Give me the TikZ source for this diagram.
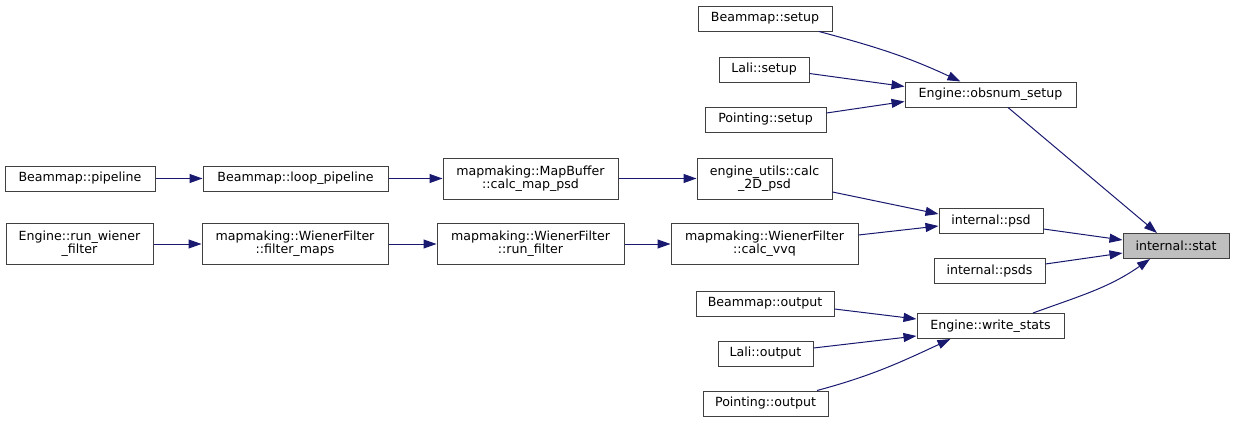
\documentclass[tikz,border=0pt]{standalone}
\usepackage{fontspec}
\setmainfont{DejaVu Sans}
\usetikzlibrary{arrows.meta}
\definecolor{edgeblue}{HTML}{191970}
\definecolor{nodeborder}{HTML}{404040}
\definecolor{curfill}{HTML}{BFBFBF}
\tikzset{
  fn/.style={draw=nodeborder, line width=1pt, fill=white, inner sep=0pt,
    font=\fontsize{12.6}{13.2}\selectfont, align=center, minimum height=25pt},
  fntwo/.style={fn, minimum height=41pt},
  cur/.style={fn, fill=curfill},
  call/.style={draw=edgeblue, line width=1pt, -{Triangle[length=13pt,width=9pt]}},
}
\begin{document}
\begin{tikzpicture}[x=1pt,y=-1pt]
\useasboundingbox (0,0) rectangle (1235,423);
% nodes
\node[fn, minimum width=134pt] (bsetup) at (765,18.5) {Beammap::setup};
\node[fn, minimum width=90pt] (lsetup) at (764,69.5) {Lali::setup};
\node[fn, minimum width=121pt] (psetup) at (765.5,119.5) {Pointing::setup};
\node[fn, minimum width=171pt] (obsnum) at (990.5,94.5) {Engine::obsnum\_setup};
\node[fn, minimum width=150pt] (bpipe) at (80,178.5) {Beammap::pipeline};
\node[fn, minimum width=185pt] (bloop) at (295.5,178.5) {Beammap::loop\_pipeline};
\node[fntwo, minimum width=175pt] (mapbuf) at (530.5,178.5) {mapmaking::MapBuffer\\::calc\_map\_psd};
\node[fntwo, minimum width=135pt] (calc2d) at (764.5,178.5) {engine\_utils::calc\\\_2D\_psd};
\node[fn, minimum width=104pt] (ipsd) at (991,221) {internal::psd};
\node[fntwo, minimum width=147pt] (runwiener) at (79.5,244) {Engine::run\_wiener\\\_filter};
\node[fntwo, minimum width=186pt] (filtermaps) at (295,244) {mapmaking::WienerFilter\\::filter\_maps};
\node[fntwo, minimum width=187pt] (runfilter) at (530.5,244) {mapmaking::WienerFilter\\::run\_filter};
\node[fntwo, minimum width=187pt] (calcvvq) at (764.5,244) {mapmaking::WienerFilter\\::calc\_vvq};
\node[cur, minimum width=106pt] (stat) at (1176,246) {internal::stat};
\node[fn, minimum width=111pt] (ipsds) at (989.5,271) {internal::psds};
\node[fn, minimum width=138pt] (boutput) at (765,303.5) {Beammap::output};
\node[fn, minimum width=147pt] (writestats) at (990.5,326) {Engine::write\_stats};
\node[fn, minimum width=95pt] (loutput) at (765.5,353.5) {Lali::output};
\node[fn, minimum width=125pt] (poutput) at (765.5,403.5) {Pointing::output};
% edges
\draw[call] ([xshift=54pt]bsetup.south) to[out=-15,in=155] ([xshift=-30pt]obsnum.north);
\draw[call] ([yshift=-4pt]lsetup.east) -- ([yshift=8pt]obsnum.west);
\draw[call] ([yshift=6.5pt]psetup.east) -- ([yshift=-7pt]obsnum.west);
\draw[call] ([xshift=17.5pt]obsnum.south) -- ([xshift=-19pt]stat.north);
\draw[call] (bpipe.east) -- (bloop.west);
\draw[call] (bloop.east) -- (mapbuf.west);
\draw[call] (mapbuf.east) -- (calc2d.west);
\draw[call] ([yshift=-13.5pt]calc2d.east) -- ([yshift=7pt]ipsd.west);
\draw[call] (runwiener.east) -- (filtermaps.west);
\draw[call] (filtermaps.east) -- (runfilter.west);
\draw[call] (runfilter.east) -- (calcvvq.west);
\draw[call] ([yshift=9pt]calcvvq.east) -- ([yshift=-5pt]ipsd.west);
\draw[call] ([yshift=-8pt]ipsd.east) -- ([yshift=6pt]stat.west);
\draw[call] ([yshift=7pt]ipsds.east) -- ([yshift=-7pt]stat.west);
\draw[call] ([xshift=42.5pt]writestats.north) to[out=20,in=-145] ([xshift=-26pt]stat.south);
\draw[call] ([yshift=-5.5pt]boutput.east) -- ([yshift=7pt]writestats.west);
\draw[call] ([yshift=5.5pt]loutput.east) -- ([yshift=-10pt]writestats.west);
\draw[call] ([xshift=51.5pt]poutput.north) to[out=15,in=-155] ([xshift=-40pt]writestats.south);
\end{tikzpicture}
\end{document}
